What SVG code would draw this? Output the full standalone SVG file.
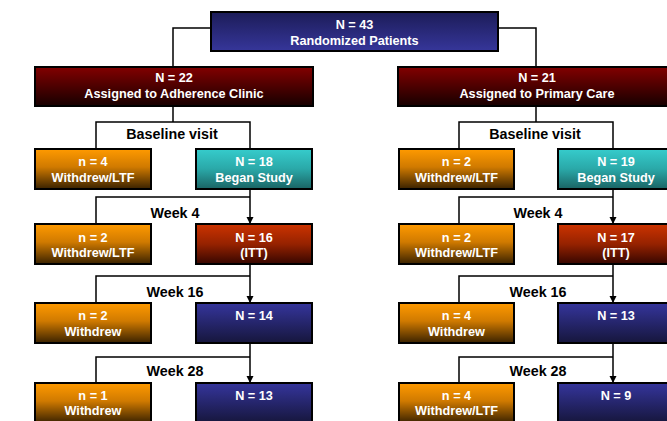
<svg xmlns="http://www.w3.org/2000/svg" width="667" height="421" viewBox="0 0 667 421">
<defs>
<linearGradient id="gNavy" x1="0" y1="0" x2="0" y2="1"><stop offset="0" stop-color="#1c1c58"/><stop offset="1" stop-color="#36369a"/></linearGradient>
<linearGradient id="gBlue" x1="0" y1="0" x2="0" y2="1"><stop offset="0" stop-color="#35359c"/><stop offset="1" stop-color="#16163c"/></linearGradient>
<linearGradient id="gRed" x1="0" y1="0" x2="0" y2="1"><stop offset="0" stop-color="#820000"/><stop offset="1" stop-color="#160000"/></linearGradient>
<linearGradient id="gOrange" x1="0" y1="0" x2="0" y2="1"><stop offset="0" stop-color="#ff9a00"/><stop offset="0.45" stop-color="#d07a00"/><stop offset="1" stop-color="#3a2200"/></linearGradient>
<linearGradient id="gTeal" x1="0" y1="0" x2="0" y2="1"><stop offset="0" stop-color="#36cccc"/><stop offset="0.5" stop-color="#2aa8a8"/><stop offset="1" stop-color="#1a6464"/></linearGradient>
<linearGradient id="gItt" x1="0" y1="0" x2="0" y2="1"><stop offset="0" stop-color="#cc3300"/><stop offset="0.5" stop-color="#962200"/><stop offset="1" stop-color="#360600"/></linearGradient>
<marker id="arr" markerWidth="8" markerHeight="8" refX="7" refY="4" orient="auto" markerUnits="userSpaceOnUse" viewBox="0 0 8 8"><path d="M0,0.5 L7,4 L0,7.5 Z" fill="#000"/></marker>
</defs>
<style>
rect.box{stroke:#000;stroke-width:2}
.t{font-family:"Liberation Sans",Arial,sans-serif;font-weight:bold;font-size:12.7px;fill:#fff;text-anchor:middle}
.lbl{font-family:"Liberation Sans",Arial,sans-serif;font-weight:bold;font-size:14.3px;fill:#000;text-anchor:middle}
#connectors path{fill:none;stroke:#000;stroke-width:1.5}
</style>
<rect width="667" height="421" fill="#fff"/>
<g id="connectors">
<path d="M211,28 H173 V67"/>
<path d="M498,28 H536 V67"/>
<path d="M173,106 V122"/>
<path d="M96,149 V122 H250 V149"/>
<path d="M250,189 V224" marker-end="url(#arr)"/>
<path d="M250,197 H96 V224"/>
<path d="M250,264 V303" marker-end="url(#arr)"/>
<path d="M250,276 H96 V303"/>
<path d="M250,343 V383" marker-end="url(#arr)"/>
<path d="M250,357 H96 V383"/>
<path d="M536,106 V122"/>
<path d="M459,149 V122 H613 V149"/>
<path d="M613,189 V224" marker-end="url(#arr)"/>
<path d="M613,197 H459 V224"/>
<path d="M613,264 V303" marker-end="url(#arr)"/>
<path d="M613,276 H459 V303"/>
<path d="M613,343 V383" marker-end="url(#arr)"/>
<path d="M613,357 H459 V383"/>
</g>
<g id="labels">
<text class="lbl" x="172" y="139">Baseline visit</text>
<text class="lbl" x="175" y="218">Week 4</text>
<text class="lbl" x="175" y="297">Week 16</text>
<text class="lbl" x="175" y="376">Week 28</text>
<text class="lbl" x="535" y="139">Baseline visit</text>
<text class="lbl" x="538" y="218">Week 4</text>
<text class="lbl" x="538" y="297">Week 16</text>
<text class="lbl" x="538" y="376">Week 28</text>
</g>
<g id="n_top"><rect class="box" x="211" y="12" width="287" height="39" fill="url(#gNavy)"/><text class="t" x="354.5" y="29">N = 43</text><text class="t" x="354.5" y="45">Randomized Patients</text></g>
<g id="n_ac"><rect class="box" x="35" y="67" width="278" height="39" fill="url(#gRed)"/><text class="t" x="174" y="82">N = 22</text><text class="t" x="174" y="98">Assigned to Adherence Clinic</text></g>
<g id="n_pc"><rect class="box" x="398" y="67" width="278" height="39" fill="url(#gRed)"/><text class="t" x="537" y="82">N = 21</text><text class="t" x="537" y="98">Assigned to Primary Care</text></g>
<g id="l_w0"><rect class="box" x="35" y="149" width="116" height="40" fill="url(#gOrange)"/><text class="t" x="93" y="166">n = 4</text><text class="t" x="93" y="182">Withdrew/LTF</text></g>
<g id="l_m0"><rect class="box" x="196" y="149" width="116" height="40" fill="url(#gTeal)"/><text class="t" x="254" y="166">N = 18</text><text class="t" x="254" y="182">Began Study</text></g>
<g id="l_w1"><rect class="box" x="35" y="224" width="116" height="40" fill="url(#gOrange)"/><text class="t" x="93" y="242">n = 2</text><text class="t" x="93" y="257">Withdrew/LTF</text></g>
<g id="l_m1"><rect class="box" x="196" y="224" width="116" height="40" fill="url(#gItt)"/><text class="t" x="254" y="242">N = 16</text><text class="t" x="254" y="257">(ITT)</text></g>
<g id="l_w2"><rect class="box" x="35" y="303" width="116" height="40" fill="url(#gOrange)"/><text class="t" x="93" y="320">n = 2</text><text class="t" x="93" y="336">Withdrew</text></g>
<g id="l_m2"><rect class="box" x="196" y="303" width="116" height="40" fill="url(#gBlue)"/><text class="t" x="254" y="320">N = 14</text></g>
<g id="l_w3"><rect class="box" x="35" y="383" width="116" height="40" fill="url(#gOrange)"/><text class="t" x="93" y="400">n = 1</text><text class="t" x="93" y="415">Withdrew</text></g>
<g id="l_m3"><rect class="box" x="196" y="383" width="116" height="40" fill="url(#gBlue)"/><text class="t" x="254" y="400">N = 13</text></g>
<g id="r_w0"><rect class="box" x="399" y="149" width="115" height="40" fill="url(#gOrange)"/><text class="t" x="456.5" y="166">n = 2</text><text class="t" x="456.5" y="182">Withdrew/LTF</text></g>
<g id="r_m0"><rect class="box" x="558" y="149" width="116" height="40" fill="url(#gTeal)"/><text class="t" x="616" y="166">N = 19</text><text class="t" x="616" y="182">Began Study</text></g>
<g id="r_w1"><rect class="box" x="399" y="224" width="115" height="40" fill="url(#gOrange)"/><text class="t" x="456.5" y="242">n = 2</text><text class="t" x="456.5" y="257">Withdrew/LTF</text></g>
<g id="r_m1"><rect class="box" x="558" y="224" width="116" height="40" fill="url(#gItt)"/><text class="t" x="616" y="242">N = 17</text><text class="t" x="616" y="257">(ITT)</text></g>
<g id="r_w2"><rect class="box" x="399" y="303" width="115" height="40" fill="url(#gOrange)"/><text class="t" x="456.5" y="320">n = 4</text><text class="t" x="456.5" y="336">Withdrew</text></g>
<g id="r_m2"><rect class="box" x="558" y="303" width="116" height="40" fill="url(#gBlue)"/><text class="t" x="616" y="320">N = 13</text></g>
<g id="r_w3"><rect class="box" x="399" y="383" width="115" height="40" fill="url(#gOrange)"/><text class="t" x="456.5" y="400">n = 4</text><text class="t" x="456.5" y="415">Withdrew/LTF</text></g>
<g id="r_m3"><rect class="box" x="558" y="383" width="116" height="40" fill="url(#gBlue)"/><text class="t" x="616" y="400">N = 9</text></g>
</svg>
